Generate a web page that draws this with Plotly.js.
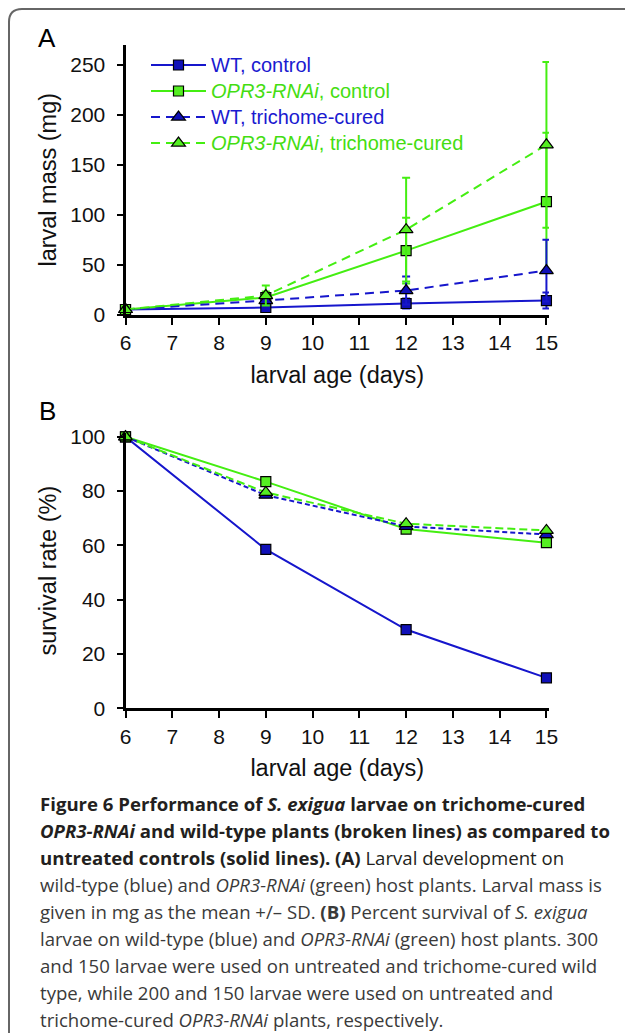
<!DOCTYPE html>
<html>
<head>
<meta charset="utf-8">
<script src="https://cdn.plot.ly/plotly-3.0.1.min.js"></script>
<style>html,body{margin:0;padding:0;background:#fff;}#chart{width:625px;height:1033px;}</style>
</head>
<body>
<div id="chart"></div>
<script>
// ---- data ----
var days = [6, 9, 12, 15];
var xTicks = [6, 7, 8, 9, 10, 11, 12, 13, 14, 15];
var seriesNames = [
  '<span style="color:#1a1ad0;font-size:20px">WT, control</span>',
  '<span style="color:#44dd11;font-size:20px"><i>OPR3-RNAi</i>, control</span>',
  '<span style="color:#1a1ad0;font-size:20px">WT, trichome-cured</span>',
  '<span style="color:#44dd11;font-size:20px"><i>OPR3-RNAi</i>, trichome-cured</span>'
];
// Panel A: larval mass (mg), mean and SD
var massWTcontrol = [5, 7, 11, 14];
var sdWTcontrol = [1, 2, 5, 8];
var massOPRcontrol = [5, 17, 64, 113];
var sdOPRcontrol = [1, 6, 33, 69];
var massWTcured = [5, 14, 24, 44];
var sdWTcured = [1, 4, 14, 31];
var massOPRcured = [5, 19, 85, 170];
var sdOPRcured = [1, 10, 52, 83];
// Panel B: survival rate (%)
var survWTcontrol = [100, 58.5, 29, 11.2];
var survOPRcontrol = [100, 83.5, 66, 61];
var survWTcured = [100, 78.5, 67, 64];
var survOPRcured = [100, 79.5, 68, 65.5];

var captionLines = [
  '<b>Figure 6 Performance of <i>S. exigua</i> larvae on trichome-cured</b>',
  '<b><i>OPR3-RNAi</i> and wild-type plants (broken lines) as compared to</b>',
  '<b>untreated controls (solid lines). (A)</b> Larval development on',
  'wild-type (blue) and <i>OPR3-RNAi</i> (green) host plants. Larval mass is',
  'given in mg as the mean +/\u2013 SD. <b>(B)</b> Percent survival of <i>S. exigua</i>',
  'larvae on wild-type (blue) and <i>OPR3-RNAi</i> (green) host plants. 300',
  'and 150 larvae were used on untreated and trichome-cured wild',
  'type, while 200 and 150 larvae were used on untreated and',
  'trichome-cured <i>OPR3-RNAi</i> plants, respectively.'
];

// ---- styling ----
var W = 625, H = 1033;
function PX(x){ return x / W; }
function PY(y){ return 1 - y / H; }
var BLUE = '#1616cc', BLUEFILL = '#1010b8';
var GREEN = '#44ee11', GREENFILL = '#55ee22';
var styles = [
  {color: BLUE, fill: BLUEFILL, dash: 'solid', symbol: 'square', size: 10},
  {color: GREEN, fill: GREENFILL, dash: 'solid', symbol: 'square', size: 10},
  {color: BLUE, fill: BLUEFILL, dash: '9px,6px', symbol: 'triangle-up', size: 12},
  {color: GREEN, fill: GREENFILL, dash: '9px,6px', symbol: 'triangle-up', size: 12}
];
var stylesB = ['solid', 'solid', '5px,3px', '8px,4px'];

var massData = [massWTcontrol, massOPRcontrol, massWTcured, massOPRcured];
var sdData = [sdWTcontrol, sdOPRcontrol, sdWTcured, sdOPRcured];
var survData = [survWTcontrol, survOPRcontrol, survWTcured, survOPRcured];

var traces = [];
for (var i = 0; i < 4; i++) {
  var s = styles[i];
  traces.push({
    x: days, y: massData[i], type: 'scatter', mode: 'lines+markers',
    name: seriesNames[i], xaxis: 'x', yaxis: 'y', cliponaxis: false,
    line: {color: s.color, width: 2, dash: s.dash},
    marker: {symbol: s.symbol, size: s.size, color: s.fill, line: {color: '#000', width: 1.2}},
    error_y: {type: 'data', array: sdData[i], visible: true, color: s.color, thickness: 2, width: 4}
  });
}
for (var j = 0; j < 4; j++) {
  var t = styles[j];
  traces.push({
    x: days, y: survData[j], type: 'scatter', mode: 'lines+markers',
    name: seriesNames[j], showlegend: false, xaxis: 'x2', yaxis: 'y2', cliponaxis: false,
    line: {color: t.color, width: 2, dash: stylesB[j]},
    marker: {symbol: t.symbol, size: t.size, color: t.fill, line: {color: '#000', width: 1.2}}
  });
}

var tickFont = {family: 'Liberation Sans, Arial, sans-serif', size: 21, color: '#111'};
var titleFont = {family: 'Liberation Sans, Arial, sans-serif', size: 23.5, color: '#111'};
function xAxis(anchor) {
  return {
    domain: [PX(125.5), PX(549)], range: [6, 15.055], anchor: anchor,
    tickvals: xTicks, ticktext: xTicks.map(String), ticks: 'outside', ticklen: 7, tickwidth: 2,
    tickcolor: '#000', showline: true, linecolor: '#000', linewidth: 3, showgrid: false, zeroline: false,
    tickfont: tickFont, ticklabelstandoff: 0,
    title: {text: 'larval age (days)', font: titleFont, standoff: 14}
  };
}
var layout = {
  width: W, height: H, margin: {l: 0, r: 0, t: 0, b: 0},
  paper_bgcolor: '#fff', plot_bgcolor: 'rgba(0,0,0,0)',
  showlegend: true,
  legend: {x: PX(146), y: PY(47), xanchor: 'left', yanchor: 'top', bgcolor: 'rgba(0,0,0,0)',
           font: {family: 'Liberation Sans, Arial, sans-serif', size: 17.7}, itemwidth: 55, tracegroupgap: 0},
  xaxis: xAxis('y'),
  yaxis: {
    domain: [PY(314.5), PY(45)], range: [0, 270], anchor: 'x', tickvals: [0, 50, 100, 150, 200, 250],
    ticks: 'outside', ticklen: 6, tickwidth: 2, tickcolor: '#000', showline: true, linecolor: '#000', linewidth: 3,
    showgrid: false, zeroline: false, tickfont: tickFont, ticklabelstandoff: 7,
    title: {text: 'larval mass (mg)', font: titleFont, standoff: 8}
  },
  xaxis2: xAxis('y2'),
  yaxis2: {
    domain: [PY(708.3), PY(433)], range: [0, 101.4], anchor: 'x2', tickvals: [0, 20, 40, 60, 80, 100],
    ticks: 'outside', ticklen: 6, tickwidth: 2, tickcolor: '#000', showline: true, linecolor: '#000', linewidth: 3,
    showgrid: false, zeroline: false, tickfont: tickFont, ticklabelstandoff: 7,
    title: {text: 'survival rate (%)', font: titleFont, standoff: 8}
  },
  shapes: [{
    type: 'path', xref: 'paper', yref: 'paper',
    path: 'M ' + PX(9) + ',' + PY(1033) + ' L ' + PX(9) + ',' + PY(22) + ' Q ' + PX(9) + ',' + PY(9) + ' ' + PX(22) + ',' + PY(9) + ' L ' + PX(625) + ',' + PY(9),
    line: {color: '#666', width: 2}
  }],
  annotations: [
    {text: 'A', x: PX(47), y: PY(38), xref: 'paper', yref: 'paper', showarrow: false, xanchor: 'center', yanchor: 'middle',
     font: {family: 'Liberation Sans, Arial, sans-serif', size: 26, color: '#000'}},
    {text: 'B', x: PX(47), y: PY(411), xref: 'paper', yref: 'paper', showarrow: false, xanchor: 'center', yanchor: 'middle',
     font: {family: 'Liberation Sans, Arial, sans-serif', size: 26, color: '#000'}}
  ]
};
var lineY = [803, 830, 857, 884, 911, 938, 965, 992, 1019];
for (var k = 0; k < captionLines.length; k++) {
  layout.annotations.push({
    text: captionLines[k], x: PX(38), y: PY(lineY[k]), xref: 'paper', yref: 'paper', showarrow: false,
    xanchor: 'left', yanchor: 'middle', align: 'left',
    font: {family: 'Open Sans, sans-serif', size: 18.6, color: k < 3 ? '#231f20' : '#3a3a3a'}
  });
}
Plotly.newPlot('chart', traces, layout, {displayModeBar: false, staticPlot: true});
</script>
</body>
</html>
